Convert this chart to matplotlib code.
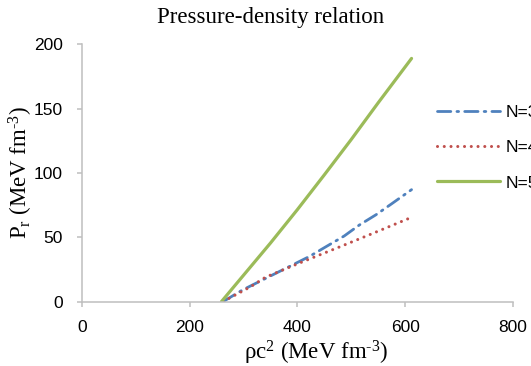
import matplotlib
matplotlib.use('Agg')
import matplotlib.pyplot as plt

# values
rho_n3 = [262, 298, 360, 422, 487, 515, 546, 575, 612]
p_n3   = [0, 9, 22, 35, 51, 59.5, 67.5, 76, 87]

rho_n4 = [262, 313, 341, 410, 479, 540, 612]
p_n4   = [0, 11.5, 19, 31, 42.6, 53, 65.5]

rho_n5 = [259, 300, 350, 400, 450, 500, 550, 612]
p_n5   = [0, 20.5, 45.5, 71.5, 98.5, 126, 154.5, 189]

labels  = ['N=3', 'N=4', 'N=5']
xticks  = [0, 200, 400, 600, 800]
yticks  = [0, 50, 100, 150, 200]

plt.rcParams['mathtext.fontset'] = 'custom'
plt.rcParams['mathtext.rm'] = 'Liberation Serif'
plt.rcParams['mathtext.it'] = 'Liberation Serif:italic'

serif = 'Liberation Serif'
sans  = 'Liberation Sans'
grey  = '#bfbfbf'

fig = plt.figure(figsize=(5.31, 3.66), dpi=100)
ax = fig.add_axes([0.1544, 0.176, 0.8113, 0.703])

ax.plot(rho_n3, p_n3, color='#4f81bd', lw=2.0, dashes=[4.8, 2.2, 0.6, 2.2],
        dash_capstyle='round', label=labels[0])
ax.plot(rho_n4, p_n4, color='#c0504d', lw=2.2, dashes=[0.01, 2.2],
        dash_capstyle='round', label=labels[1])
ax.plot(rho_n5, p_n5, color='#9bbb59', lw=2.3, solid_capstyle='round',
        label=labels[2])

ax.set_xlim(0, 800)
ax.set_ylim(0, 200)
ax.set_xticks(xticks)
ax.set_yticks(yticks)

for s in ['top', 'right']:
    ax.spines[s].set_visible(False)
for s in ['left', 'bottom']:
    ax.spines[s].set_color(grey)
    ax.spines[s].set_linewidth(1.1)

ax.tick_params(axis='both', direction='out', length=3.6, width=1.1,
               color=grey, labelsize=12.5, pad=10)
for lab in ax.get_xticklabels() + ax.get_yticklabels():
    lab.set_fontfamily(sans)

ax.set_xlabel('ρc$^{2}$ (MeV fm$^{\u20103}$)', fontsize=16.5, family=serif)
ax.xaxis.set_label_coords(0.544, -0.145)
ax.set_ylabel('P$_{\\mathrm{r}}$ (MeV fm$^{\u20103}$)',
              fontsize=16.5, family=serif)
ax.yaxis.set_label_coords(-0.108, 0.50)

fig.text(0.51, 1 - 18 / 366, 'Pressure-density relation', ha='center',
         va='center', fontsize=16.5, family=serif)

leg = ax.legend(loc='center left', bbox_to_anchor=(0.823, 0.596),
                bbox_transform=fig.transFigure, frameon=False, borderpad=0,
                borderaxespad=0, handlelength=3.6, handletextpad=0.35,
                labelspacing=1.15, prop={'family': sans, 'size': 12.5})

fig.savefig('out.png', dpi=100)
